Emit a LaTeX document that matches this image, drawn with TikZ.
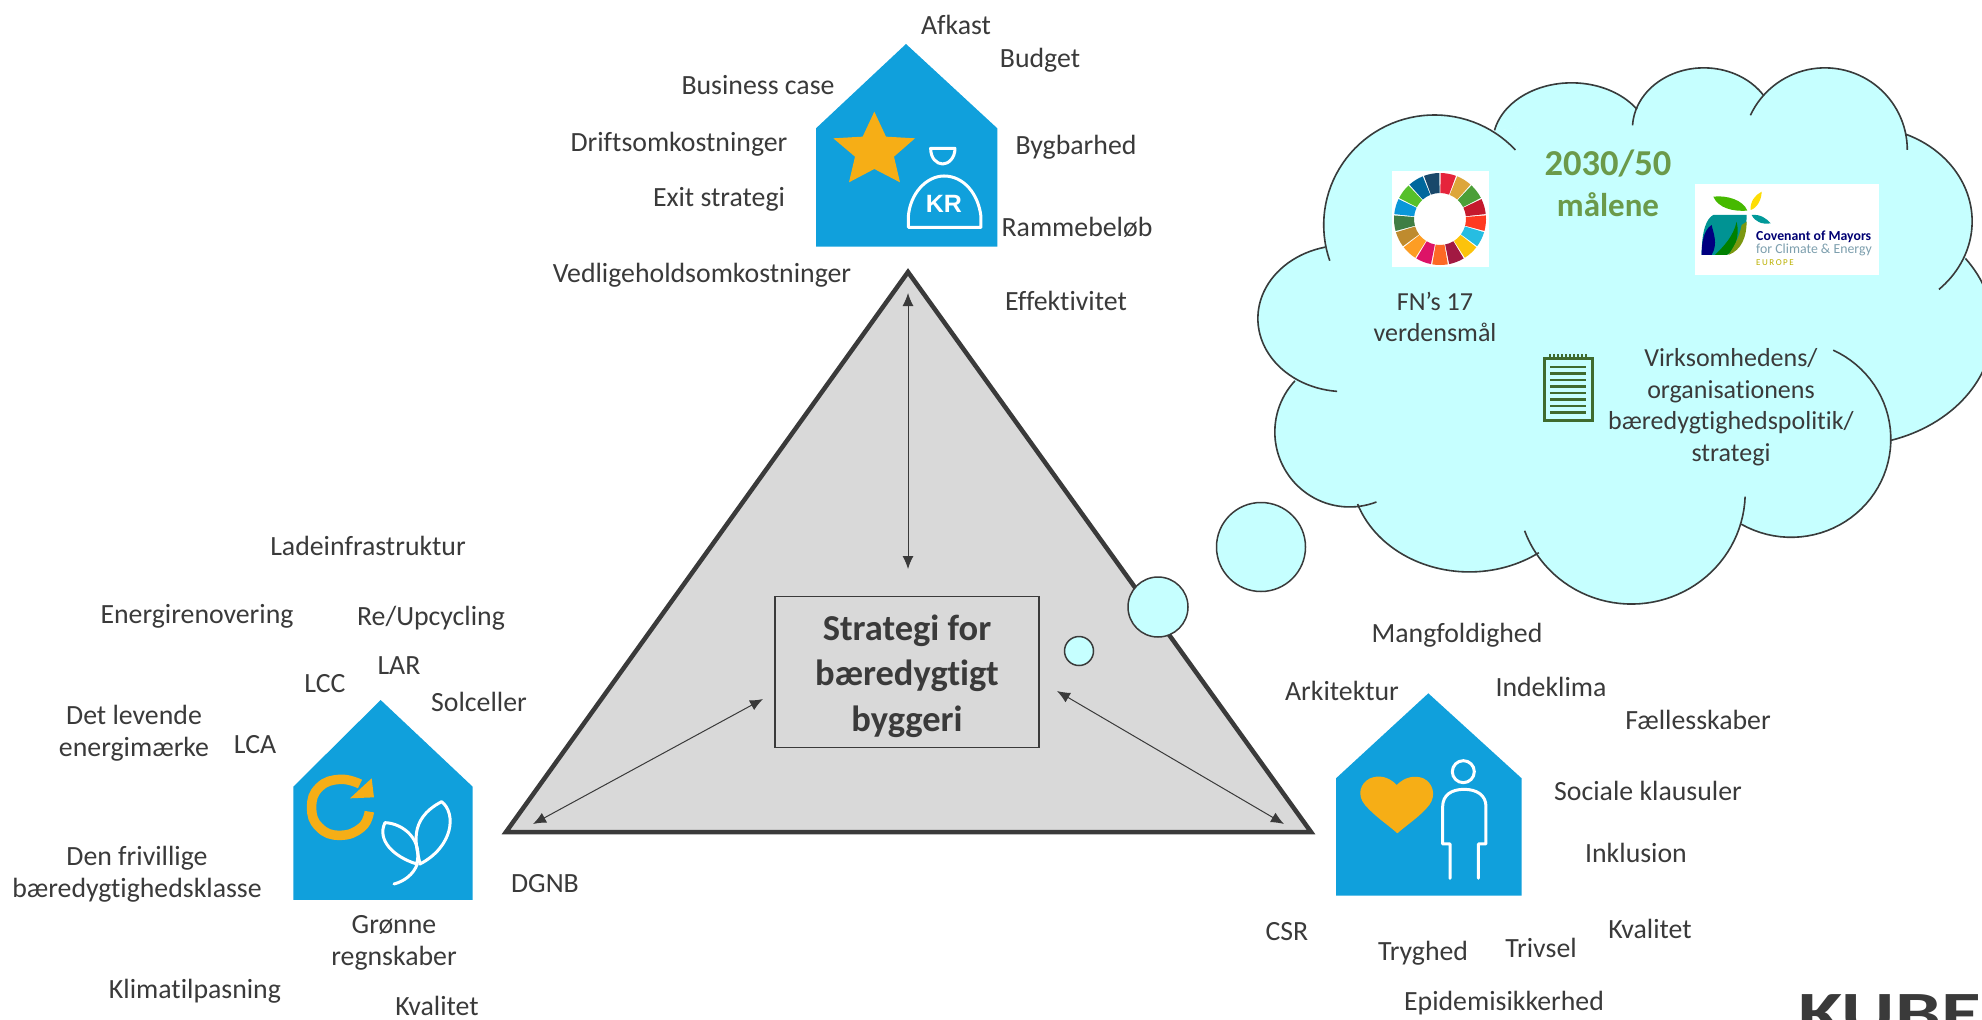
\documentclass[tikz,border=0pt]{standalone}
\usepackage{fontspec}
\setmainfont{Carlito}[Ligatures=NoCommon]
\newfontfamily\krfont{Liberation Sans}
\usetikzlibrary{arrows.meta}
\definecolor{ink}{HTML}{3A3A3A}
\definecolor{cloudc}{HTML}{C6FFFF}
\definecolor{houseb}{HTML}{10A0DC}
\definecolor{gold}{HTML}{F6AE16}
\definecolor{gry}{HTML}{D9D9D9}
\definecolor{grn}{HTML}{3F6B2E}
\definecolor{grt}{HTML}{6B9A4A}
\definecolor{sdg0}{HTML}{E5243B}\definecolor{sdg1}{HTML}{DDA63A}\definecolor{sdg2}{HTML}{4C9F38}
\definecolor{sdg3}{HTML}{C5192D}\definecolor{sdg4}{HTML}{FF3A21}\definecolor{sdg5}{HTML}{26BDE2}
\definecolor{sdg6}{HTML}{FCC30B}\definecolor{sdg7}{HTML}{A21942}\definecolor{sdg8}{HTML}{FD6925}
\definecolor{sdg9}{HTML}{DD1367}\definecolor{sdg10}{HTML}{FD9D24}\definecolor{sdg11}{HTML}{BF8B2E}
\definecolor{sdg12}{HTML}{3F7E44}\definecolor{sdg13}{HTML}{0A97D9}\definecolor{sdg14}{HTML}{56C02B}
\definecolor{sdg15}{HTML}{00689D}\definecolor{sdg16}{HTML}{19486A}
\tikzset{
  lbl/.style={inner sep=0pt,align=center,text=ink,font=\fontsize{27.8}{32}\selectfont},
  cloudlbl/.style={lbl,font=\fontsize{26}{31.5}\selectfont},
  dbl/.style={draw=ink,line width=1pt,{Latex[length=13pt,width=11pt]}-{Latex[length=13pt,width=11pt]}},
  bubble/.style={fill=cloudc,draw=ink,line width=1.5pt},
  wline/.style={draw=white,line width=3pt,line join=round,line cap=round},
}
\def\lobefill#1#2#3#4#5#6{\filldraw[fill=cloudc,draw=cloudc,line width=1.5pt] plot[domain=#5:#6,samples=48,variable=\t] ({#1+#3*cos(\t)},{#2+#4*sin(\t)}) -- cycle;}
\def\lobeline#1#2#3#4#5#6{\draw[ink,line width=1.6pt] plot[domain=#5:#6,samples=48,variable=\t] ({#1+#3*cos(\t)},{#2+#4*sin(\t)});}
\def\allarcs#1{%
#1{470}{490}{222}{308}{161}{317}%
#1{745}{260}{158}{168}{192}{326}%
#1{1010}{220}{143}{170}{183}{327}%
#1{1253}{280}{165}{230}{205}{360}%
#1{1330}{480}{218}{265}{293}{406}%
#1{1300}{778}{290}{330}{324}{433}%
#1{1185}{1090}{200}{275}{295}{480}%
#1{865}{1240}{228}{312}{2}{160}%
#1{540}{1180}{237}{282}{54}{161}%
#1{300}{1070}{150}{210}{69}{223}%
#1{290}{752}{174}{205}{95}{257}%
}
\begin{document}
\begin{tikzpicture}[x=1pt,y=-1pt]
\clip (0,0) rectangle (1982,1020);
\fill[white] (0,0) rectangle (1982,1020);
% triangle
\coordinate (tA) at (908,272);
\coordinate (tL) at (506,832);
\coordinate (tR) at (1311,832);
\draw[fill=gry,draw=ink,line width=4.5pt,line join=miter] (tA) -- (tL) -- (tR) -- cycle;
\node[draw=ink,fill=gry,line width=1.5pt,minimum width=264pt,minimum height=151pt,inner sep=0pt] (strat) at (907,672) {};
\node[inner sep=0pt,align=center,text=ink,font=\fontsize{36.5}{45.5}\selectfont\bfseries] (strattxt) at (907,676) {Strategi for\\bæredygtigt\\byggeri};
% arrows
\coordinate (a1) at (908,293); \coordinate (a2) at (908,569);
\coordinate (b1) at (533,824); \coordinate (b2) at (763,699);
\coordinate (c1) at (1057,691); \coordinate (c2) at (1284,824);
\draw[dbl] (a1) -- (a2);
\draw[dbl] (b1) -- (b2);
\draw[dbl] (c1) -- (c2);
% bubbles
\node[circle,bubble,minimum size=29pt,inner sep=0pt] (bub1) at (1079,651) {};
\node[circle,bubble,minimum size=60pt,inner sep=0pt] (bub2) at (1158,607) {};
\node[circle,bubble,minimum size=89pt,inner sep=0pt] (bub3) at (1261,547) {};
% cloud
\begin{scope}[shift={(1200,50)},x=0.4988pt,y=-0.357pt]
\allarcs\lobefill
\filldraw[fill=cloudc,draw=cloudc,line width=1.5pt] (250,548)--(595,228)--(878,165)--(1128,130)--(1415,240)--(1535,585)--(1385,1092)--(1085,1325)--(678,1408)--(315,1272)--(190,928)--cycle;
\allarcs\lobeline
\end{scope}
% SDG wheel
\fill[white] (1392,171) rectangle (1489,267);
\begin{scope}[shift={(1440,219)},x=1pt,y=1pt]
\foreach \i in {0,...,16}{
  \pgfmathsetmacro\sa{90-\i*21.176-0.8}
  \pgfmathsetmacro\ea{\sa-19.5}
  \fill[sdg\i] (\sa:46) arc[start angle=\sa,end angle=\ea,radius=46] -- (\ea:26) arc[start angle=\ea,end angle=\sa,radius=26] -- cycle;
}
\end{scope}
% 2030/50
\node[inner sep=0pt,text=grt,font=\fontsize{36.5}{40}\selectfont\bfseries] (goal1) at (1608,164) {2030/50};
\node[inner sep=0pt,text=grt,font=\fontsize{33}{34}\selectfont\bfseries] (goal2) at (1608,205) {målene};
% Covenant logo
\fill[white] (1695,184) rectangle (1879,275);
\begin{scope}[shift={(1480,150)},x=0.3333pt,y=-0.3333pt]
\fill[green!45!olive] (700,140) .. controls (740,135) and (790,150) .. (802,182) .. controls (760,185) and (715,175) .. (700,140) -- cycle;
\fill[yellow!80!orange] (845,125) .. controls (845,150) and (830,175) .. (812,180) .. controls (810,155) and (825,135) .. (845,125) -- cycle;
\fill[teal!80!cyan] (815,195) .. controls (840,192) and (860,205) .. (872,220) .. controls (845,224) and (825,215) .. (815,195) -- cycle;
\fill[teal!85!cyan] (800,195) -- (700,195) .. controls (680,205) and (665,240) .. (665,315) -- (740,315) .. controls (780,300) and (800,250) .. (800,195) -- cycle;
\fill[blue!50!black] (695,225) .. controls (670,240) and (665,280) .. (665,315) -- (695,315) .. controls (715,280) and (700,250) .. (695,225) -- cycle;
\fill[green!50!black] (770,215) .. controls (760,260) and (730,290) .. (705,315) -- (740,315) .. controls (765,300) and (780,260) .. (770,215) -- cycle;
\fill[olive!70!green] (800,215) .. controls (800,260) and (785,300) .. (745,315) .. controls (770,280) and (780,250) .. (785,225) -- cycle;
\end{scope}
\node[anchor=west,inner sep=0pt,text=blue!45!black,font=\fontsize{13.8}{15}\selectfont\bfseries] (cov1) at (1756,237) {Covenant of Mayors};
\node[anchor=west,inner sep=0pt,text=cyan!30!gray,font=\fontsize{13.8}{15}\selectfont] (cov2) at (1756,250) {for Climate \& Energy};
\node[anchor=west,inner sep=0pt,text=olive!60!yellow,font=\fontsize{9}{10}\selectfont] (cov3) at (1756,263) {E\,U\,R\,O\,P\,E};
% notepad
\draw[grn,line width=3pt,line join=miter] (1544,358) rectangle (1592,420);
\foreach \yy in {367,373.5,380,386.5,393,399.5,406,412.5}{\draw[grn,line width=2.6pt] (1550,\yy) -- (1586,\yy);}
\foreach \xx in {1550,1554,...,1586}{\draw[grn,line width=1.2pt] (\xx,354) -- (\xx,360);}
% top house
\begin{scope}[shift={(780,20)},x=0.3333pt,y=-0.3333pt]
\fill[houseb] (378,72) -- (652,325) -- (652,680) -- (108,680) -- (108,325) -- cycle;
\fill[gold] (283,275)--(318,350)--(405,355)--(342,410)--(360,487)--(283,447)--(207,487)--(225,410)--(160,355)--(248,350)--cycle;
\draw[wline] (452,385) -- (525,385) .. controls (525,415) and (505,432) .. (488,432) .. controls (470,432) and (452,415) .. (452,385) -- cycle;
\draw[wline] (385,622) -- (385,590) .. controls (390,520) and (440,468) .. (492,468) .. controls (550,468) and (595,520) .. (603,590) -- (603,622) -- cycle;
\node[inner sep=0pt,text=white,font=\krfont\fontsize{25}{25}\selectfont\bfseries] (kr) at (492,553) {KR};
\end{scope}
% left house
\begin{scope}[shift={(260,680)},x=0.3333pt,y=-0.3333pt]
\fill[houseb] (362,60) -- (638,320) -- (638,660) -- (100,660) -- (100,320) -- cycle;
\draw[gold,line width=9.5pt] plot[smooth,tension=0.8] coordinates {(328,395)(305,442)(240,466)(178,442)(155,382)(178,322)(240,298)(300,312)};
\fill[gold] (335,295)--(342,352)--(270,355)--cycle;
\draw[wline,line width=3pt] (545,365) .. controls (590,400) and (580,500) .. (480,552) .. controls (470,500) and (440,420) .. (545,365) -- cycle;
\draw[wline,line width=3pt] (375,428) .. controls (430,430) and (490,480) .. (470,552) .. controls (400,530) and (350,480) .. (375,428) -- cycle;
\draw[wline,line width=3pt] (472,552) .. controls (460,585) and (430,605) .. (402,612);
\end{scope}
% right house
\begin{scope}[shift={(1310,670)},x=0.3333pt,y=-0.3333pt]
\fill[houseb] (355,70) -- (635,325) -- (635,677) -- (78,677) -- (78,325) -- cycle;
\fill[gold] (260,345) .. controls (235,318) and (205,315) .. (180,325) .. controls (150,340) and (140,375) .. (165,405) .. controls (195,440) and (235,465) .. (262,490) .. controls (290,465) and (330,440) .. (358,405) .. controls (380,375) and (368,338) .. (340,325) .. controls (315,315) and (285,320) .. (260,345) -- cycle;
\draw[wline] (460,305) circle[x radius=33,y radius=33];
\draw[wline] (420,625) -- (420,522) -- (398,522) -- (398,410) .. controls (398,375) and (425,358) .. (462,358) .. controls (500,358) and (528,375) .. (528,410) -- (528,522) -- (505,522) -- (505,625);
\end{scope}
% labels
\node[lbl] (t1) at (956,25) {Afkast};
\node[lbl] (t2) at (1040,60) {Budget};
\node[lbl] (t3) at (758,85) {Business case};
\node[lbl] (t4) at (1076,147) {Bygbarhed};
\node[lbl] (t5) at (679,144) {Driftsomkostninger};
\node[lbl] (t6) at (719,199) {Exit strategi};
\node[lbl] (t7) at (1077,227) {Rammebeløb};
\node[lbl] (t8) at (702,275) {Vedligeholdsomkostninger};
\node[lbl] (t9) at (1066,301) {Effektivitet};
\node[lbl] (t10) at (368,546) {Ladeinfrastruktur};
\node[lbl] (t11) at (197,616) {Energirenovering};
\node[lbl] (t12) at (431,618) {Re/Upcycling};
\node[lbl] (t13) at (399,666) {LAR};
\node[lbl] (t14) at (325,684) {LCC};
\node[lbl] (t15) at (479,702) {Solceller};
\node[lbl] (t16) at (134,733) {Det levende\\energimærke};
\node[lbl] (t17) at (255,745) {LCA};
\node[lbl] (t18) at (137,874) {Den frivillige\\bæredygtighedsklasse};
\node[lbl] (t19) at (545,884) {DGNB};
\node[lbl] (t20) at (394,943) {Grønne\\regnskaber};
\node[lbl] (t21) at (195,991) {Klimatilpasning};
\node[lbl] (t22) at (437,1006) {Kvalitet};
\node[lbl] (t23) at (1457,635) {Mangfoldighed};
\node[lbl] (t24) at (1342,691) {Arkitektur};
\node[lbl] (t25) at (1551,687) {Indeklima};
\node[lbl] (t26) at (1698,720) {Fællesskaber};
\node[lbl] (t27) at (1648,791) {Sociale klausuler};
\node[lbl] (t28) at (1636,853) {Inklusion};
\node[lbl] (t29) at (1287,932) {CSR};
\node[lbl] (t30) at (1423,953) {Tryghed};
\node[lbl] (t31) at (1541,948) {Trivsel};
\node[lbl] (t32) at (1650,929) {Kvalitet};
\node[lbl] (t33) at (1504,1003) {Epidemisikkerhed};
\node[cloudlbl] (t34) at (1435,317) {FN’s 17\\verdensmål};
\node[cloudlbl] (t35) at (1731,407) {Virksomhedens/\\organisationens\\bæredygtighedspolitik/\\strategi};
% logo
\node[anchor=base west,inner sep=0pt,text=ink,xscale=1.36,font=\fontsize{60}{62}\selectfont\bfseries] (logo) at (1798,1033) {KUBE};
\end{tikzpicture}
\end{document}
